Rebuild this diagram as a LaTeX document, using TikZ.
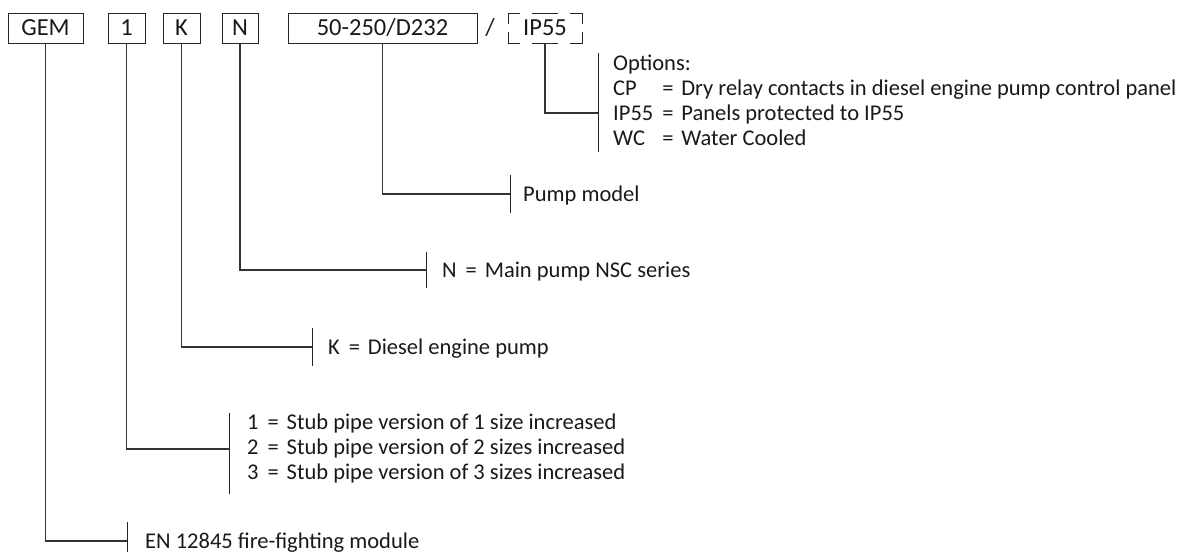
\documentclass[tikz,border=0pt]{standalone}
\usepackage{fontspec}
\setmainfont{Carlito}
\newcommand{\eqs}{\hspace{0.4em}=\hspace{0.35em}}
\begin{document}
\begin{tikzpicture}[x=1pt,y=-1pt,
  every node/.style={inner sep=0pt, font=\fontsize{22.5}{25}\selectfont, text=black!90},
  boxfont/.style={font=\fontsize{24.5}{26}\selectfont},
  codebox/.style={boxfont, draw=black!85, line width=1pt, minimum height=30pt},
  conn/.style={draw=black!80, line width=1.1pt},
  tickline/.style={draw=black!85, line width=1pt},
  lbl/.style={anchor=base west, align=left}
]
\useasboundingbox (0,0) rectangle (1189,552);
% code boxes
\node[codebox, minimum width=75pt] (gem) at (45.5,28) {GEM};
\node[codebox, minimum width=37pt] (one) at (126.5,28) {1};
\node[codebox, minimum width=37pt] (k) at (181.5,28) {K};
\node[codebox, minimum width=36pt] (n) at (240,28) {N};
\node[codebox, minimum width=189pt] (model) at (382.5,28) {50-250/D232};
\node[boxfont] (slash) at (490,28) {/};
\node[boxfont, minimum width=74pt, minimum height=30pt] (ip) at (545,28) {IP55};
% dashed bracket around IP55
\draw[tickline] (508,24) -- (508,13) -- (520,13);
\draw[tickline] (532,13) -- (558,13);
\draw[tickline] (570,13) -- (582,13) -- (582,24);
\draw[tickline] (508,32) -- (508,43) -- (520,43);
\draw[tickline] (532,43) -- (558,43);
\draw[tickline] (570,43) -- (582,43) -- (582,32);
% tick coordinates
\coordinate (tOpt) at (598,113);
\coordinate (tMod) at (510,194);
\coordinate (tN) at (426,270);
\coordinate (tK) at (312,347);
\coordinate (tStub) at (229,449);
\coordinate (tEN) at (127,541);
% connectors
\draw[conn] (ip.south) |- (tOpt);
\draw[conn] (model.south) |- (tMod);
\draw[conn] (n.south) |- (tN);
\draw[conn] (k.south) |- (tK);
\draw[conn] (one.south) |- (tStub);
\draw[conn] (gem.south) |- (tEN);
% ticks
\draw[tickline] (598,53) -- (598,152);
\draw[tickline] (510,175) -- (510,213);
\draw[tickline] (426,252) -- (426,288);
\draw[tickline] (312,328) -- (312,366);
\draw[tickline] (229,413) -- (229,494);
\draw[tickline] (127,522) -- (127,552);
% labels
\node[anchor=north west] (optlbl) at (613,53) {%
  \begin{tabular}{@{}l@{}l@{}}
  \multicolumn{2}{@{}l@{}}{Options:}\\
  CP & \eqs Dry relay contacts in diesel engine pump control panel\\
  IP55 & \eqs Panels protected to IP55\\
  WC & \eqs Water Cooled
  \end{tabular}};
\node[lbl] (modlbl) at (523,201.5) {Pump model};
\node[lbl] (nlbl) at (442,277.5) {N\eqs Main pump NSC series};
\node[lbl] (klbl) at (328,354.5) {K\eqs Diesel engine pump};
\node[anchor=north west] (stublbl) at (247,412) {%
  \begin{tabular}{@{}l@{}}
  1\eqs Stub pipe version of 1 size increased\\
  2\eqs Stub pipe version of 2 sizes increased\\
  3\eqs Stub pipe version of 3 sizes increased
  \end{tabular}};
\node[lbl] (enlbl) at (145,548.5) {EN 12845 fire-fighting module};
\end{tikzpicture}
\end{document}
